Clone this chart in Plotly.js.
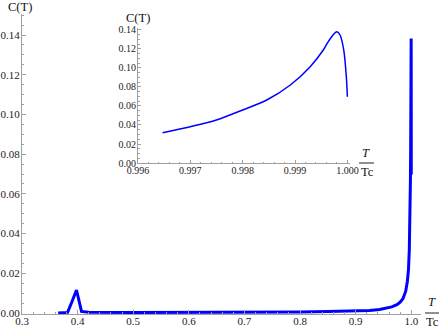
<!DOCTYPE html>
<html>
<head>
<meta charset="utf-8">
<script src="https://cdn.plot.ly/plotly-3.0.1.min.js"></script>
<style>
	html, body {margin: 0; padding: 0; background: #fff;}
	#chart {width: 441px; height: 328px;}
</style>
</head>
<body>
<div id="chart"></div>
<script>
// main curve, T/Tc from 0.365 up to where the inset takes over
var mainT = [0.365, 0.382, 0.390, 0.398, 0.407, 0.420, 0.50, 0.60, 0.70, 0.80, 0.85, 0.90, 0.925, 0.943, 0.955, 0.965, 0.975, 0.980, 0.985, 0.990, 0.993, 0.995];
var mainC = [0, 0.0003, 0.0058, 0.0116, 0.0008, 0.0004, 0.0003, 0.0003, 0.0004, 0.0005, 0.0007, 0.0010, 0.0013, 0.0018, 0.0024, 0.0031, 0.0043, 0.0055, 0.0072, 0.0110, 0.0160, 0.0220];

// inset: the region just below Tc
var insetT = [0.99647, 0.9970, 0.9975, 0.9980, 0.99846, 0.99891, 0.99929, 0.99954, 0.99962, 0.99970, 0.99976, 0.99980, 0.99986, 0.99993, 0.99998, 1.0];
var insetC = [0.0319, 0.0382, 0.0453, 0.0558, 0.0663, 0.0821, 0.1014, 0.1189, 0.1265, 0.1329, 0.1368, 0.1382, 0.1347, 0.1190, 0.0908, 0.0698];

var axisGray = '#a0a0a0';
var serif = 'Liberation Serif';
var tickFont = {family: serif, size: 11, color: '#222'};
var insetFont = {family: serif, size: 10, color: '#222'};
var labelFont = {family: serif, size: 12.5, color: '#111'};

// pixel -> paper helpers (plot area: l=22, w=399, t=14, h=300)
function px(x) { return (x - 22) / 399; }
function py(y) { return (314 - y) / 300; }

var main = {
	x: mainT.concat(insetT),
	y: mainC.concat(insetC),
	type: 'scatter',
	mode: 'lines',
	hoverinfo: 'skip',
	line: {color: '#0000ff', width: 3},
	xaxis: 'x',
	yaxis: 'y'
};
var inset = {
	x: insetT,
	y: insetC,
	type: 'scatter',
	mode: 'lines',
	hoverinfo: 'skip',
	line: {color: '#0000ff', width: 1.5, shape: 'spline', smoothing: 0.8},
	xaxis: 'x2',
	yaxis: 'y2'
};

function axisBase() {
	return {
		showgrid: false,
		zeroline: false,
		showline: true,
		linecolor: axisGray,
		linewidth: 1,
		ticks: 'inside',
		tickcolor: axisGray,
		ticklen: 4,
		tickwidth: 1
	};
}

var xaxis = Object.assign(axisBase(), {
	range: [0.3, 1.0175],
	tick0: 0, dtick: 0.1, tickformat: '.1f',
	tickfont: tickFont,
	ticklabelstandoff: -3,
	minor: {ticks: 'inside', ticklen: 2, dtick: 0.02, tickcolor: axisGray}
});
var yaxis = Object.assign(axisBase(), {
	range: [-0.0005, 0.1506],
	tick0: 0, dtick: 0.02, tickformat: '.2f',
	tickfont: tickFont,
	ticklabelstandoff: -1,
	minor: {ticks: 'inside', ticklen: 2, dtick: 0.005, tickcolor: axisGray}
});
var xaxis2 = Object.assign(axisBase(), {
	domain: [px(138), px(350)],
	anchor: 'y2',
	range: [0.996, 1.00005],
	tick0: 0.996, dtick: 0.001, tickformat: '.3f',
	tickfont: insetFont,
	ticklabelstandoff: -2,
	ticklen: 3,
	minor: {ticks: 'inside', ticklen: 1.5, dtick: 0.0002, tickcolor: axisGray}
});
var yaxis2 = Object.assign(axisBase(), {
	domain: [py(163), py(27.6)],
	anchor: 'x2',
	range: [0, 0.1425],
	tick0: 0, dtick: 0.02, tickformat: '.2f',
	tickfont: insetFont,
	ticklabelstandoff: -1,
	ticklen: 3,
	minor: {ticks: 'inside', ticklen: 1.5, dtick: 0.005, tickcolor: axisGray}
});

function label(text, x, y, font) {
	return {text: text, xref: 'paper', yref: 'paper', x: px(x), y: py(y),
		xanchor: 'center', yanchor: 'middle', showarrow: false, font: font};
}

var layout = {
	width: 441,
	height: 328,
	margin: {l: 22, r: 20, t: 14, b: 14},
	font: {family: serif, size: 11, color: '#222'},
	paper_bgcolor: '#fff',
	plot_bgcolor: 'rgba(0,0,0,0)',
	showlegend: false,
	xaxis: xaxis,
	yaxis: yaxis,
	xaxis2: xaxis2,
	yaxis2: yaxis2,
	annotations: [
		label('C(T)', 20, 7, labelFont),
		label('<i>T</i>', 432, 302, labelFont),
		label('Tc', 432, 322, labelFont),
		label('C(T)', 138, 18, labelFont),
		label('<i>T</i>', 366, 153, labelFont),
		label('Tc', 367, 172, labelFont)
	],
	shapes: [
		{type: 'line', xref: 'paper', yref: 'paper', x0: px(425), x1: px(439), y0: py(313), y1: py(313), line: {color: '#222', width: 1}},
		{type: 'line', xref: 'paper', yref: 'paper', x0: px(359), x1: px(374), y0: py(163), y1: py(163), line: {color: '#222', width: 1}}
	]
};

Plotly.newPlot('chart', [main, inset], layout, {staticPlot: true, displayModeBar: false});
</script>
</body>
</html>
